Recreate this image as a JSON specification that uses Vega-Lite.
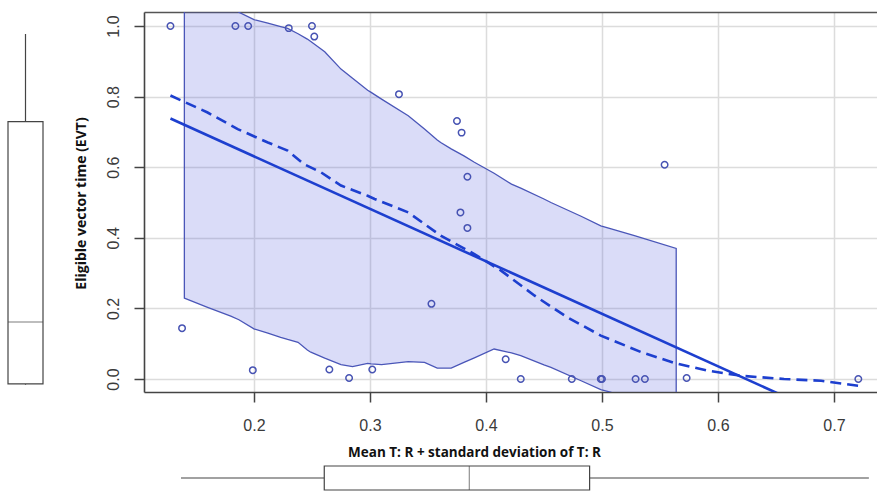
{
  "$schema": "https://vega.github.io/schema/vega-lite/v6.json",
  "padding": {"left": 7, "top": 12, "right": 0, "bottom": 0},
  "config": {"view": {"stroke": null}},
  "datasets": {
    "pts": [
      {"mtr": 0.128, "evt": 1.0}, {"mtr": 0.184, "evt": 1.0}, {"mtr": 0.195, "evt": 1.0},
      {"mtr": 0.230, "evt": 0.994}, {"mtr": 0.250, "evt": 1.0}, {"mtr": 0.252, "evt": 0.97},
      {"mtr": 0.325, "evt": 0.807}, {"mtr": 0.375, "evt": 0.731}, {"mtr": 0.379, "evt": 0.698},
      {"mtr": 0.384, "evt": 0.573}, {"mtr": 0.554, "evt": 0.607}, {"mtr": 0.378, "evt": 0.472},
      {"mtr": 0.384, "evt": 0.428}, {"mtr": 0.353, "evt": 0.213}, {"mtr": 0.138, "evt": 0.144},
      {"mtr": 0.199, "evt": 0.025}, {"mtr": 0.265, "evt": 0.027}, {"mtr": 0.282, "evt": 0.003},
      {"mtr": 0.302, "evt": 0.027}, {"mtr": 0.417, "evt": 0.056}, {"mtr": 0.430, "evt": 0.0},
      {"mtr": 0.474, "evt": 0.0}, {"mtr": 0.499, "evt": 0.0}, {"mtr": 0.500, "evt": 0.0},
      {"mtr": 0.529, "evt": 0.0}, {"mtr": 0.537, "evt": 0.0}, {"mtr": 0.573, "evt": 0.003},
      {"mtr": 0.721, "evt": 0.0}
    ],
    "band": [
      {"x": 0.140, "lo": 0.229, "hi": 1.25}, {"x": 0.160, "lo": 0.203, "hi": 1.15},
      {"x": 0.180, "lo": 0.178, "hi": 1.07}, {"x": 0.187, "lo": 0.168, "hi": 1.039},
      {"x": 0.200, "lo": 0.142, "hi": 1.018}, {"x": 0.212, "lo": 0.130, "hi": 1.008},
      {"x": 0.223, "lo": 0.118, "hi": 0.998}, {"x": 0.229, "lo": 0.112, "hi": 0.993},
      {"x": 0.238, "lo": 0.104, "hi": 0.978}, {"x": 0.246, "lo": 0.082, "hi": 0.963},
      {"x": 0.249, "lo": 0.076, "hi": 0.956}, {"x": 0.261, "lo": 0.059, "hi": 0.927},
      {"x": 0.275, "lo": 0.041, "hi": 0.878}, {"x": 0.285, "lo": 0.035, "hi": 0.852},
      {"x": 0.298, "lo": 0.044, "hi": 0.818}, {"x": 0.301, "lo": 0.043, "hi": 0.812},
      {"x": 0.310, "lo": 0.041, "hi": 0.793}, {"x": 0.333, "lo": 0.049, "hi": 0.746},
      {"x": 0.347, "lo": 0.047, "hi": 0.708}, {"x": 0.358, "lo": 0.031, "hi": 0.677},
      {"x": 0.361, "lo": 0.031, "hi": 0.670}, {"x": 0.370, "lo": 0.031, "hi": 0.652},
      {"x": 0.381, "lo": 0.047, "hi": 0.632}, {"x": 0.390, "lo": 0.060, "hi": 0.614},
      {"x": 0.407, "lo": 0.085, "hi": 0.583}, {"x": 0.422, "lo": 0.074, "hi": 0.552},
      {"x": 0.430, "lo": 0.066, "hi": 0.541}, {"x": 0.450, "lo": 0.040, "hi": 0.510},
      {"x": 0.456, "lo": 0.033, "hi": 0.500}, {"x": 0.482, "lo": -0.005, "hi": 0.461},
      {"x": 0.499, "lo": -0.030, "hi": 0.434}, {"x": 0.508, "lo": -0.038, "hi": 0.425},
      {"x": 0.528, "lo": -0.070, "hi": 0.406}, {"x": 0.564, "lo": -0.120, "hi": 0.370}
    ],
    "reg": [
      {"x": 0.128, "y": 0.738}, {"x": 0.721, "y": -0.144}
    ],
    "loess": [
      {"x": 0.128, "y": 0.803}, {"x": 0.160, "y": 0.755}, {"x": 0.186, "y": 0.708},
      {"x": 0.212, "y": 0.670}, {"x": 0.229, "y": 0.647}, {"x": 0.243, "y": 0.609},
      {"x": 0.258, "y": 0.585}, {"x": 0.275, "y": 0.548}, {"x": 0.298, "y": 0.519},
      {"x": 0.304, "y": 0.510}, {"x": 0.333, "y": 0.472}, {"x": 0.361, "y": 0.406},
      {"x": 0.390, "y": 0.354}, {"x": 0.413, "y": 0.307}, {"x": 0.442, "y": 0.236},
      {"x": 0.470, "y": 0.175}, {"x": 0.499, "y": 0.123}, {"x": 0.534, "y": 0.076},
      {"x": 0.564, "y": 0.044}, {"x": 0.591, "y": 0.024}, {"x": 0.620, "y": 0.009},
      {"x": 0.657, "y": 0.0}, {"x": 0.689, "y": -0.005}, {"x": 0.721, "y": -0.019}
    ]
  },
  "columns": 2,
  "align": "each",
  "bounds": "flush",
  "spacing": {"row": 74, "column": 101},
  "concat": [
    {
      "width": 35,
      "height": 380,
      "data": {"name": "pts"},
      "mark": {
        "type": "boxplot",
        "size": 35,
        "extent": 1.5,
        "outliers": false,
        "box": {"fill": "white", "stroke": "#444444", "strokeWidth": 1.2},
        "median": {"color": "#444444", "strokeWidth": 1.2},
        "rule": {"color": "#444444", "strokeWidth": 1.2}
      },
      "encoding": {
        "y": {"field": "evt", "type": "quantitative", "axis": null,
              "scale": {"domain": [-0.0208, 1.0627], "nice": false, "zero": false}}
      }
    },
    {
      "width": 733,
      "height": 380,
      "resolve": {"axis": {"x": "independent", "y": "independent"}},
      "layer": [
        {
          "data": {"name": "band"},
          "mark": {"type": "area", "clip": true, "color": "#4650dc", "fillOpacity": 0.2,
                   "stroke": "#4a56b8", "strokeWidth": 1.3, "orient": "vertical"},
          "encoding": {
            "x": {"field": "x", "type": "quantitative",
                  "scale": {"domain": [0.1052, 0.7371], "nice": false, "zero": false},
                  "axis": {
                    "values": [0.2, 0.3, 0.4, 0.5, 0.6, 0.7], "format": ".1f",
                    "title": "Mean T: R + standard deviation of T: R",
                    "domainColor": "#444444", "domainWidth": 1.6,
                    "tickColor": "#444444", "tickWidth": 1.5, "tickSize": 10,
                    "gridColor": "#dcdcdc", "gridWidth": 1.5,
                    "labelFont": "Liberation Sans", "labelFontSize": 16, "labelColor": "#3a3a3a",
                    "labelBaseline": "middle", "labelPadding": 23,
                    "titleFont": "Open Sans", "titleFontSize": 13.5, "titleFontWeight": "bold",
                    "titleColor": "#111111", "titleX": 330, "titleY": 60,
                    "titleBaseline": "middle", "titleAlign": "center", "titleAnchor": null
                  }},
            "y": {"field": "lo", "type": "quantitative",
                  "scale": {"domain": [-0.0368, 1.0397], "nice": false, "zero": false},
                  "axis": {
                    "values": [0, 0.2, 0.4, 0.6, 0.8, 1.0], "format": ".1f",
                    "title": "Eligible vector time (EVT)",
                    "domainColor": "#444444", "domainWidth": 1.6,
                    "tickColor": "#444444", "tickWidth": 1.5, "tickSize": 10,
                    "gridColor": "#dcdcdc", "gridWidth": 1.5,
                    "labelFont": "Liberation Sans", "labelFontSize": 16, "labelColor": "#3a3a3a",
                    "labelAngle": -90, "labelAlign": "center", "labelBaseline": "middle",
                    "labelPadding": 21,
                    "titleFont": "Open Sans", "titleFontSize": 14, "titleFontWeight": "bold",
                    "titleColor": "#111111", "titleX": -63, "titleY": 191, "titleAngle": -90,
                    "titleBaseline": "middle", "titleAlign": "center", "titleAnchor": null
                  }},
            "y2": {"field": "hi"}
          }
        },
        {
          "data": {"name": "reg"},
          "mark": {"type": "line", "clip": true, "color": "#1d3fcf", "strokeWidth": 2.6},
          "encoding": {
            "x": {"field": "x", "type": "quantitative",
                  "axis": {"orient": "top", "labels": false, "ticks": false, "grid": false,
                           "title": null, "domainColor": "#555555", "domainWidth": 1.6}},
            "y": {"field": "y", "type": "quantitative", "axis": null}
          }
        },
        {
          "data": {"name": "loess"},
          "mark": {"type": "line", "clip": true, "color": "#1d3fcf", "strokeWidth": 2.6,
                   "strokeDash": [11, 6]},
          "encoding": {
            "x": {"field": "x", "type": "quantitative", "axis": null},
            "y": {"field": "y", "type": "quantitative", "axis": null}
          }
        },
        {
          "data": {"name": "pts"},
          "mark": {"type": "point", "shape": "circle", "filled": false, "size": 42,
                   "strokeWidth": 1.5, "color": "#4753b3", "opacity": 1},
          "encoding": {
            "x": {"field": "mtr", "type": "quantitative", "axis": null},
            "y": {"field": "evt", "type": "quantitative", "axis": null}
          }
        }
      ]
    },
    {
      "width": 35,
      "height": 24,
      "data": {"values": []},
      "mark": "point"
    },
    {
      "width": 733,
      "height": 24,
      "data": {"name": "pts"},
      "mark": {
        "type": "boxplot",
        "size": 24,
        "extent": 1.5,
        "outliers": false,
        "box": {"fill": "white", "stroke": "#444444", "strokeWidth": 1.2},
        "median": {"color": "#444444", "strokeWidth": 1.2},
        "rule": {"color": "#444444", "strokeWidth": 1.2}
      },
      "encoding": {
        "x": {"field": "mtr", "type": "quantitative", "axis": null,
              "scale": {"domain": [0.0961, 0.7280], "nice": false, "zero": false}}
      }
    }
  ]
}
